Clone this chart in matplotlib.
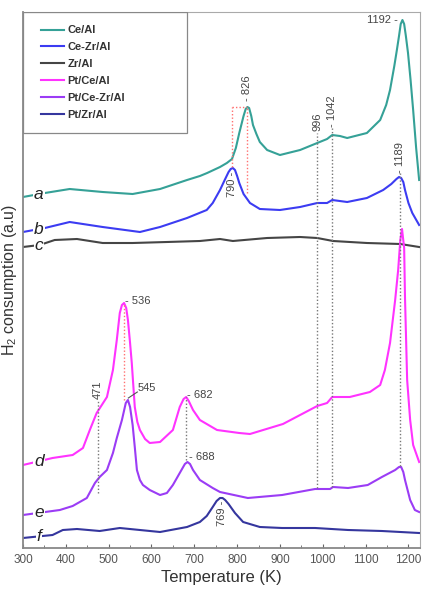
import numpy as np
import matplotlib
matplotlib.use("Agg")
import matplotlib.pyplot as plt
from matplotlib.patches import Rectangle

plt.rcParams['font.family'] = ['Liberation Sans', 'DejaVu Sans']
plt.rcParams['mathtext.fontset'] = 'custom'
plt.rcParams['mathtext.rm'] = 'Liberation Sans'

# TPR traces (temperature K, stacked signal a.u.)
a_T = [300, 351, 409, 486, 556, 620, 683, 713, 730, 745, 760, 776, 788, 797, 805, 815, 820, 824,
       828, 833, 837, 845, 853, 870, 900, 947, 987, 1010, 1022, 1040, 1057, 1103, 1134, 1148, 1157,
       1167, 1173, 1178, 1182, 1186, 1190, 1194, 1199, 1205, 1211, 1218, 1225]
a_y = [351, 355, 359, 356, 354, 359, 368, 372, 375, 378, 381, 385, 389, 400, 415, 432, 439, 441,
       440, 432, 423, 414, 406, 398, 393, 398, 405, 409, 413, 412, 410, 415, 428, 443, 458,
       482, 498, 512, 524, 528, 524, 512, 495, 468, 438, 400, 368]

b_T = [300, 351, 409, 486, 573, 620, 683, 729, 743, 760, 771, 780, 785, 790, 795, 800, 805, 815,
       830, 853, 900, 947, 987, 1010, 1022, 1057, 1103, 1141, 1160, 1172, 1178, 1183, 1188, 1192,
       1200, 1209, 1225]
b_y = [316, 320, 326, 321, 316, 321, 330, 338, 345, 358, 368, 376, 379, 380, 378, 372, 365, 354,
       345, 339, 338, 341, 345, 345, 348, 346, 350, 358, 364, 369, 371, 370, 366, 358,
       345, 335, 323]

c_T = [300, 339, 374, 426, 486, 556, 636, 713, 760, 790, 870, 947, 987, 1024, 1103, 1181, 1225]
c_y = [301, 303, 308, 309, 305, 305, 306, 307, 309, 307, 310, 311, 310, 307, 305, 304, 301]

d_T = [300, 369, 416, 440, 456, 472, 496, 510, 519, 526, 531, 536, 541, 545, 550, 554, 561, 567,
       573, 585, 596, 620, 650, 666, 675, 681, 687, 697, 713, 753, 805, 830, 907, 987, 1010, 1022,
       1063, 1110, 1134, 1145, 1157, 1169, 1176, 1181, 1185, 1190, 1192, 1197, 1204, 1211, 1225]
d_y = [83, 90, 93, 100, 118, 135, 151, 178, 208, 235, 243, 245, 240, 228, 205, 185, 141, 126,
       118, 109, 105, 106, 118, 141, 149, 151, 147, 138, 128, 118, 115, 114, 124, 142, 145, 151,
       151, 156, 163, 178, 205, 248, 278, 308, 319, 300, 250, 168, 128, 103, 86]

e_T = [300, 386, 416, 449, 468, 479, 496, 510, 519, 531, 540, 545, 550, 556, 561, 566, 573, 580,
       596, 620, 636, 650, 666, 678, 684, 690, 697, 713, 743, 760, 825, 905, 982, 1017, 1024, 1059,
       1105, 1138, 1169, 1178, 1183, 1188, 1192, 1204, 1215, 1225]
e_y = [33, 38, 42, 50, 65, 71, 78, 95, 110, 128, 145, 148, 141, 123, 101, 78, 68, 63,
       58, 53, 55, 63, 75, 84, 86, 84, 78, 68, 60, 56, 50, 53, 59, 59, 61, 60,
       63, 71, 78, 81, 81, 76, 68, 48, 38, 36]

f_T = [300, 369, 393, 426, 479, 526, 573, 620, 683, 713, 729, 743, 752, 760, 766, 772, 780, 795,
       814, 853, 905, 982, 1059, 1138, 1225]
f_y = [10, 13, 18, 19, 17, 20, 18, 16, 21, 26, 32, 41, 47, 50, 50, 48, 44, 35,
       26, 21, 20, 20, 18, 17, 15]

names = ['Ce/Al', 'Ce-Zr/Al', 'Zr/Al', 'Pt/Ce/Al', 'Pt/Ce-Zr/Al', 'Pt/Zr/Al']
letters = ['a', 'b', 'c', 'd', 'e', 'f']
colors = ['#35a197', '#3c3cf2', '#454545', '#ff33ff', '#9b3cf5', '#35369e']
traces = [(a_T, a_y), (b_T, b_y), (c_T, c_y), (d_T, d_y), (e_T, e_y), (f_T, f_y)]

# peak guide lines: temperature, bottom, top
guides = [(475, 55, 148), (680, 88, 151), (987, 60, 415), (1022, 61, 420), (1181, 82, 375)]
red_guides = [(537, 148, 245), (788, 381, 441), (823, 355, 441)]

fig = plt.figure(figsize=(4.22, 5.96), dpi=100)
ax = fig.add_axes([23 / 422, 1 - 548 / 596, 397 / 422, 536 / 596])

for (T, y), c, n in zip(traces, colors, names):
    ax.plot(T, y, color=c, lw=1.5, label=n, solid_joinstyle='round')

for x, y0, y1 in guides:
    ax.plot([x, x], [y0, y1], ls=(0, (1, 1.5)), color='#777777', lw=1)
for x, y0, y1 in red_guides:
    ax.plot([x, x], [y0, y1], ls=(0, (1, 1.5)), color='#ff7070', lw=1)
ax.plot([788, 823], [441, 441], ls=(0, (1, 1.5)), color='#ff7070', lw=1)

# curve letters
for (T, y), l in zip(traces, letters):
    ax.text(337, np.interp(337, T, y), l, fontsize=12.5, style='italic', color='#222222',
            ha='center', va='center',
            bbox=dict(boxstyle='square,pad=0.05', fc='white', ec='none'))

tc = '#444444'
fs = 8
ax.text(1176, 528, '1192 -', fontsize=fs, color=tc, ha='right', va='center')
ax.text(823, 447, '- 826', fontsize=fs, color=tc, ha='center', va='bottom', rotation=90)
ax.text(987, 417, '996', fontsize=fs, color=tc, ha='center', va='bottom', rotation=90)
ax.text(1022, 421, '- 1042', fontsize=fs, color=tc, ha='center', va='bottom', rotation=90)
ax.text(1181, 375, '- 1189', fontsize=fs, color=tc, ha='center', va='bottom', rotation=90)
ax.text(788, 376, '790 -', fontsize=fs, color=tc, ha='center', va='top', rotation=90)
ax.text(475, 149, '471', fontsize=fs, color=tc, ha='center', va='bottom', rotation=90)
ax.text(764, 47, '769 -', fontsize=fs, color=tc, ha='center', va='top', rotation=90)
ax.text(539, 247, '- 536', fontsize=fs, color=tc, ha='left', va='center')
ax.plot([546, 567], [150, 156], color='#555555', lw=0.8)
ax.text(568, 160, '545', fontsize=fs, color=tc, ha='left', va='center')
ax.text(684, 153, '- 682', fontsize=fs, color=tc, ha='left', va='center')
ax.text(688, 91, '- 688', fontsize=fs, color=tc, ha='left', va='center')

ax.set_xlim(300, 1227)
ax.set_ylim(0, 536)
ax.set_yticks([])
ax.set_xticks(np.arange(300, 1201, 100))
ax.set_xticks(np.arange(350, 1201, 100), minor=True)
ax.tick_params(axis='x', which='both', direction='in', colors='#666666', labelcolor='#555555',
               labelsize=8.5, pad=4)
ax.tick_params(axis='x', which='major', length=3)
ax.tick_params(axis='x', which='minor', length=2)
for s in ['top', 'right']:
    ax.spines[s].set_color('#aaaaaa')
    ax.spines[s].set_linewidth(0.8)
for s in ['left', 'bottom']:
    ax.spines[s].set_color('#888888')
    ax.spines[s].set_linewidth(1.3)

ax.set_xlabel('Temperature (K)', fontsize=12, color='#333333', labelpad=3)
ax.set_ylabel(r'H$_\mathregular{2}$ consumption (a.u)', fontsize=11.5, color='#333333', labelpad=3)

ax.add_patch(Rectangle((0, 0.774), 0.413, 0.226, transform=ax.transAxes, fill=False,
                       ec='#888888', lw=0.9, zorder=5))
leg = ax.legend(loc='upper left', bbox_to_anchor=(0.045, 0.975), frameon=False,
                handlelength=2.1, handletextpad=0.3, labelspacing=0.62, borderpad=0,
                borderaxespad=0, prop={'weight': 'bold', 'size': 8})
for t in leg.get_texts():
    t.set_color('#333333')

fig.savefig('out.png', dpi=100)
